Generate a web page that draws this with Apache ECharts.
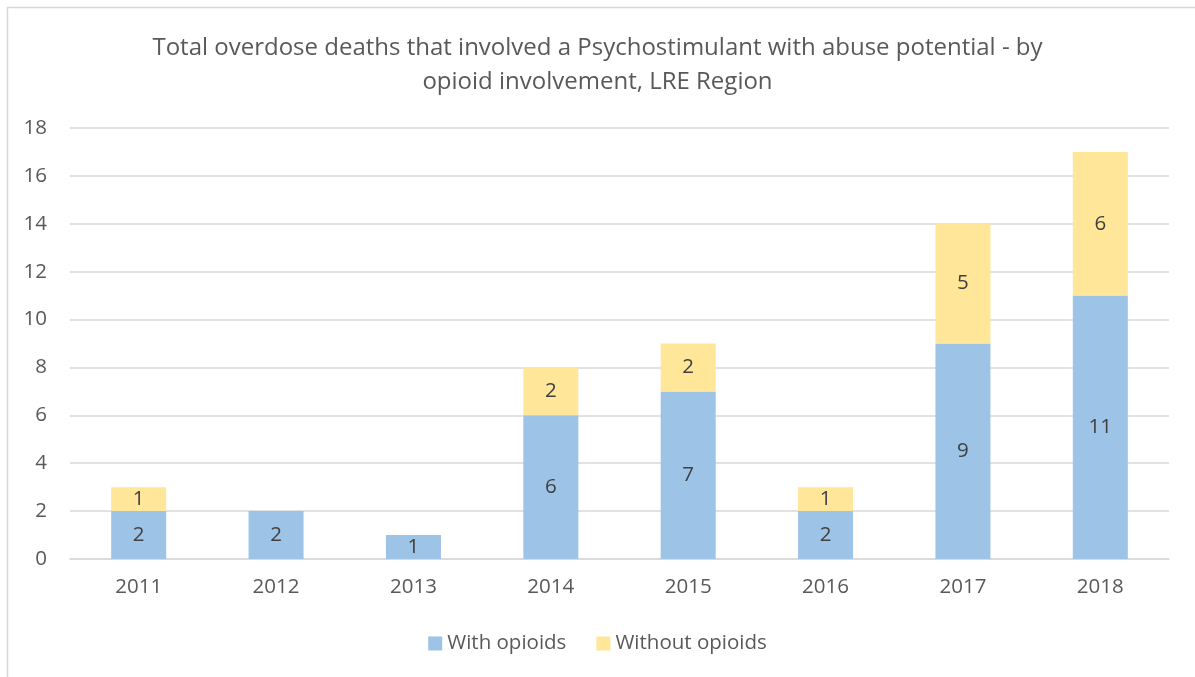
<!DOCTYPE html>
<html><head><meta charset="utf-8">
<script src="https://cdn.jsdelivr.net/npm/echarts@6/dist/echarts.min.js"></script>
<style>html,body{margin:0;padding:0;background:#fff}#c{width:1195px;height:677px}</style>
</head><body><div id="c"></div>
<script>
const categories = ['2011','2012','2013','2014','2015','2016','2017','2018'];
const withOpioids = [2,2,1,6,7,2,9,11];
const withoutOpioids = [1,null,null,2,2,1,5,6];
const yTicks = {min:0, max:18, interval:2};
const titleText = 'Total overdose deaths that involved a Psychostimulant with abuse potential - by\nopioid involvement, LRE Region';
const FONT = '"Open Sans", "Liberation Sans", sans-serif';

const chart = echarts.init(document.getElementById('c'), null, {renderer:'canvas'});
chart.setOption({
  animation:false,
  backgroundColor:'#fff',
  graphic:[{type:'rect', shape:{x:7.5,y:7.5,width:1300,height:800}, style:{fill:'none', stroke:'#d9d9d9', lineWidth:1.5}, silent:true}],
  title:{text:titleText, left:'center', top:26, textStyle:{fontFamily:FONT, fontSize:24, fontWeight:'normal', color:'#595959', lineHeight:34}},
  legend:{bottom:18, left:'center', itemWidth:14, itemHeight:14, itemGap:30, icon:'rect',
    textStyle:{fontFamily:FONT, fontSize:20.5, color:'#595959'}},
  grid:{left:70, right:26, top:128, bottom:118, containLabel:false},
  xAxis:{type:'category', data:categories,
    axisLine:{lineStyle:{color:'#d9d9d9', width:1.5}}, axisTick:{show:false},
    axisLabel:{fontFamily:FONT, fontSize:20.5, color:'#595959', margin:18}},
  yAxis:{type:'value', min:yTicks.min, max:yTicks.max, interval:yTicks.interval,
    axisLine:{show:false}, axisTick:{show:false},
    splitLine:{lineStyle:{color:'#d9d9d9', width:1.5}},
    axisLabel:{fontFamily:FONT, fontSize:20.5, color:'#595959', margin:23}},
  series:[
    {name:'With opioids', type:'bar', stack:'s', data:withOpioids, barWidth:55,
     itemStyle:{color:'#9dc3e6'},
     label:{show:true, position:'inside', fontFamily:FONT, fontSize:20.5, color:'#404040'}},
    {name:'Without opioids', type:'bar', stack:'s', data:withoutOpioids, barWidth:55,
     itemStyle:{color:'#ffe699'},
     label:{show:true, position:'inside', fontFamily:FONT, fontSize:20.5, color:'#404040'}}
  ]
});
</script></body></html>
